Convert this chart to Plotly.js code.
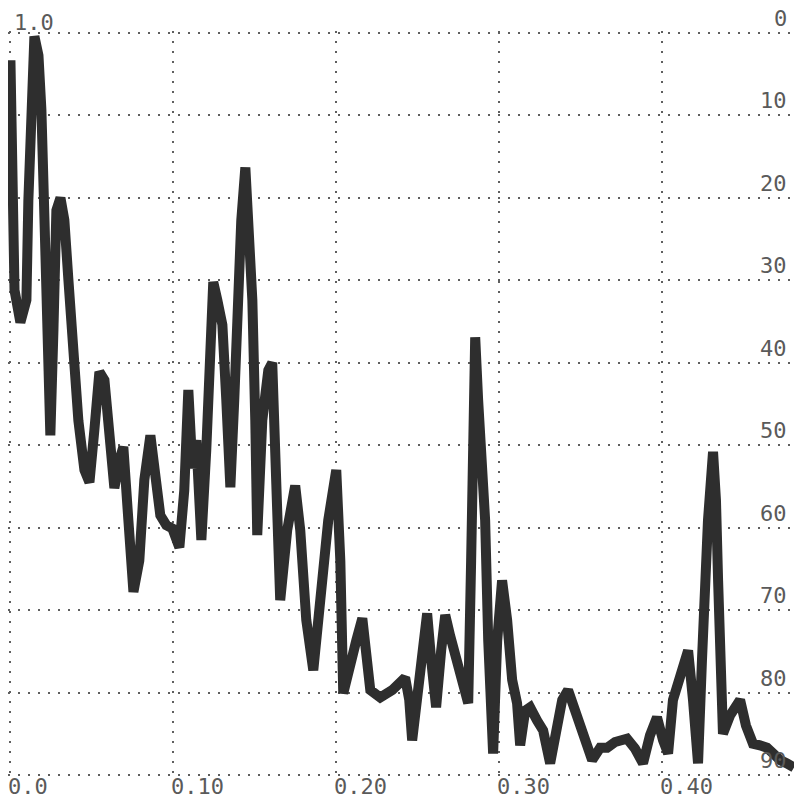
<!DOCTYPE html>
<html>
<head>
<meta charset="utf-8">
<script src="https://cdn.plot.ly/plotly-3.0.1.min.js"></script>
<style>
html,body{margin:0;padding:0;background:#fff;}
#chart{width:794px;height:800px;}
</style>
</head>
<body>
<div id="chart"></div>
<script>
// Normalised frequency (x) and attenuation in dB (y, 0 at top)
const freq = [
0.000,0.0012,0.0025,0.0061,0.0098,0.0110,0.0123,0.0147,0.0172,0.0190,
0.0209,0.0227,0.0245,0.0264,0.0282,0.0307,0.0331,0.0356,0.0387,0.0417,
0.0454,0.0485,0.0515,0.0546,0.0577,0.0607,0.0638,0.0669,0.0693,0.0724,
0.0755,0.0791,0.0822,0.0859,0.0890,0.0920,0.0957,0.0994,0.1037,0.1067,
0.1092,0.1117,0.1141,0.1172,0.1202,0.1227,0.1245,0.1270,0.1301,0.1325,
0.1350,0.1374,0.1393,0.1417,0.1442,0.1466,0.1485,0.1503,0.1515,0.1546,
0.1583,0.1607,0.1632,0.1656,0.1699,0.1748,0.1779,0.1816,0.1859,0.1902,
0.1951,0.2000,0.2025,0.2043,0.2086,0.2123,0.2160,0.2184,0.2209,0.2270,
0.2344,0.2423,0.2448,0.2466,0.2503,0.2534,0.2558,0.2583,0.2613,0.2644,
0.2669,0.2699,0.2742,0.2779,0.2810,0.2828,0.2840,0.2853,0.2871,0.2896,
0.2914,0.2933,0.2963,0.2988,0.3018,0.3049,0.3080,0.3110,0.3129,0.3160,
0.3190,0.3233,0.3270,0.3313,0.3350,0.3387,0.3423,0.3466,0.3515,0.3571,
0.3620,0.3663,0.3712,0.3785,0.3834,0.3883,0.3926,0.3969,0.4006,0.4037,
0.4067,0.4110,0.4160,0.4190,0.4221,0.4245,0.4264,0.4282,0.4313,0.4331,
0.4344,0.4356,0.4374,0.4417,0.4479,0.4515,0.4558,0.4601,0.4644,0.4693,
0.4724,0.4767,0.4810
];
const level = [
3.3,17.8,31.2,35.1,32.4,20.3,9.3,0.4,2.7,9.3,
22.7,39.7,48.8,36.0,21.5,20.0,22.7,30.0,39.7,47.0,
53.0,54.5,48.2,41.1,42.1,48.2,55.2,51.8,50.2,59.1,
67.8,64.0,54.2,48.8,53.0,58.5,59.7,60.1,62.4,55.5,
43.3,52.8,49.4,61.5,50.6,36.0,30.2,32.4,35.4,44.5,
55.1,44.5,32.4,22.7,16.3,23.9,32.4,47.0,60.9,47.0,
40.9,40.0,54.2,68.8,60.3,54.9,60.3,71.2,77.3,68.8,
59.1,53.0,64.0,80.1,76.1,73.7,71.0,74.9,79.7,80.6,
79.7,78.2,80.9,85.8,78.5,72.5,70.4,76.1,81.8,74.9,
70.6,73.1,76.1,78.5,81.3,64.0,47.0,36.9,44.5,53.0,
59.1,73.7,87.4,73.7,66.4,71.2,78.5,81.3,86.4,82.2,
81.8,83.4,84.6,88.6,84.6,80.9,79.7,82.2,85.8,88.2,
86.7,86.7,86.0,85.6,86.8,88.6,85.2,83.0,85.8,87.4,
80.9,77.9,74.9,80.9,88.6,76.1,66.4,59.1,50.8,56.7,
66.4,74.9,85.0,82.8,80.9,84.0,86.2,86.4,86.7,87.6,
88.2,88.6,89.1
];
const xTickVals = [0, 0.1, 0.2, 0.3, 0.4];
const xTickText = ["0.0", "0.10", "0.20", "0.30", "0.40"];
const yTickVals = [0, 10, 20, 30, 40, 50, 60, 70, 80, 90];
const yTickText = ["0", "10", "20", "30", "40", "50", "60", "70", "80", "90"];
const leftLabel = "1.0";

const labelFont = {family: "DejaVu Sans Mono", size: 22, color: "#5a5a5a"};

const annotations = [];
xTickVals.forEach((v, i) => annotations.push({
  xref: "x", yref: "paper", x: v, y: 0, xanchor: "left", yanchor: "bottom",
  text: xTickText[i], showarrow: false, font: labelFont, xshift: -4, yshift: -24
}));
yTickVals.forEach((v, i) => annotations.push({
  xref: "paper", yref: "y", x: 1, y: v, xanchor: "right", yanchor: "bottom",
  text: yTickText[i], showarrow: false, font: labelFont, xshift: -5, yshift: 0
}));
annotations.push({
  xref: "paper", yref: "paper", x: 0, y: 1, xanchor: "left", yanchor: "bottom",
  text: leftLabel, showarrow: false, font: labelFont, xshift: 4, yshift: -6
});

const gridStyle = {gridcolor: "#5e5e5e", gridwidth: 2, griddash: "2px,8px"};

Plotly.newPlot("chart", [{
  x: freq, y: level, type: "scatter", mode: "lines",
  line: {color: "#2e2e2e", width: 10, shape: "linear"},
  hoverinfo: "skip"
}], {
  width: 794, height: 800,
  margin: {l: 8, r: 0, t: 31, b: 23, pad: 0},
  paper_bgcolor: "#ffffff", plot_bgcolor: "#ffffff",
  showlegend: false,
  xaxis: Object.assign({
    range: [-0.0015, 0.481], tickvals: xTickVals, showticklabels: false,
    showgrid: true, zeroline: false, showline: false, ticks: ""
  }, gridStyle),
  yaxis: Object.assign({
    range: [90.25, -0.25], tickvals: yTickVals, showticklabels: false,
    showgrid: true, zeroline: false, showline: false, ticks: ""
  }, gridStyle),
  annotations: annotations
}, {displayModeBar: false, staticPlot: true});
</script>
</body>
</html>
